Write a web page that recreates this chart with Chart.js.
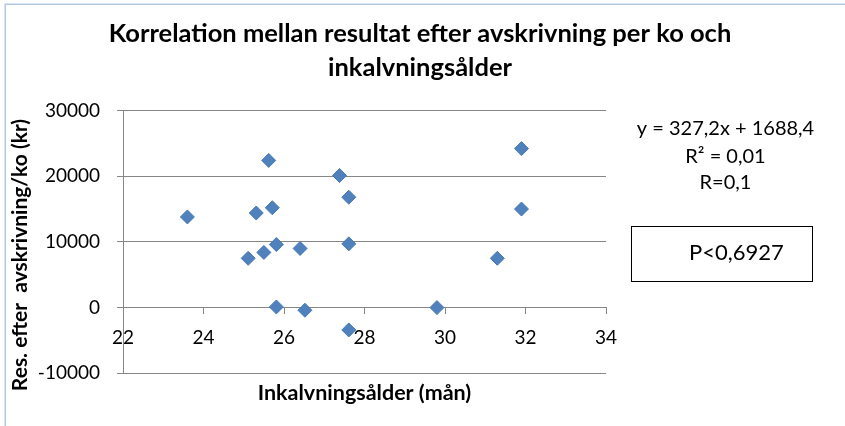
<!DOCTYPE html>
<html>
<head>
<meta charset="utf-8">
<script src="https://cdn.jsdelivr.net/npm/chart.js@4/dist/chart.umd.min.js"></script>
<style>
  html, body { margin: 0; padding: 0; background: #ffffff; }
  #wrap { width: 845px; height: 426px; }
</style>
</head>
<body>
<div id="wrap"><canvas id="c" width="845" height="426"></canvas></div>
<script>
// Inkalvningsålder (månader) per ko
const ageMonths = [23.6, 25.62, 27.38, 27.61, 25.31, 25.71, 25.81, 26.4, 27.61, 25.5, 25.11, 25.81, 26.52, 27.61, 31.9, 31.9, 31.3, 29.8];
// Resultat efter avskrivning per ko (kr)
const resultKr = [13800, 22400, 20100, 16800, 14400, 15200, 9600, 9000, 9700, 8400, 7500, 100, -400, -3400, 24200, 15000, 7500, 0];

const titleLines = ['Korrelation mellan resultat efter avskrivning per ko och', 'inkalvningsålder'];
const xTitle = 'Inkalvningsålder (mån)';
const yTitle = 'Res. efter  avskrivning/ko (kr)';
const regressionLines = ['y = 327,2x + 1688,4', 'R² = 0,01', 'R=0,1'];
const pValueText = 'P<0,6927';

const xTicks = { min: 22, max: 34, step: 2 };
const yTicks = { min: -10000, max: 30000, step: 10000 };

const FONT = 'Lato, "Open Sans", sans-serif';
const AXIS_GREY = '#868686';

const points = ageMonths.map((x, i) => ({ x: x, y: resultKr[i] }));

// Frame, titles, regression text and the boxed p-value
const decorations = {
  id: 'decorations',
  beforeDraw(chart) {
    const ctx = chart.ctx;
    ctx.save();
    ctx.fillStyle = '#ffffff';
    ctx.fillRect(0, 0, chart.width, chart.height);
    ctx.strokeStyle = '#b3c8e3';
    ctx.lineWidth = 1.5;
    ctx.beginPath();
    ctx.moveTo(5.25, chart.height);
    ctx.lineTo(5.25, 4.25);
    ctx.lineTo(chart.width, 4.25);
    ctx.stroke();
    ctx.restore();
  },
  afterDraw(chart) {
    const ctx = chart.ctx;
    const area = chart.chartArea;
    ctx.save();
    ctx.fillStyle = '#000000';
    ctx.textAlign = 'center';
    ctx.textBaseline = 'alphabetic';

    // chart title, two lines
    ctx.font = 'bold 25.5px ' + FONT;
    ctx.fillText(titleLines[0], 420, 42);
    ctx.fillText(titleLines[1], 420, 75.5);

    // x-axis title under the plot
    ctx.font = 'bold 21.5px ' + FONT;
    ctx.fillText(xTitle, (area.left + area.right) / 2, 400);

    // y-axis title, rotated
    ctx.save();
    ctx.translate(27, 255);
    ctx.rotate(-Math.PI / 2);
    ctx.font = 'bold 21px ' + FONT;
    ctx.fillText(yTitle, 0, 0);
    ctx.restore();

    // regression equation
    ctx.font = '20px ' + FONT;
    const cx = 725.5;
    const baselines = [135, 163, 189];
    regressionLines.forEach((t, i) => ctx.fillText(t, cx, baselines[i]));

    // p-value box
    ctx.strokeStyle = '#000000';
    ctx.lineWidth = 1;
    ctx.strokeRect(631.5, 226.5, 181, 55);
    ctx.font = '22px ' + FONT;
    ctx.fillText(pValueText, 736.5, 259.5);
    ctx.restore();
  }
};

new Chart(document.getElementById('c'), {
  type: 'scatter',
  data: {
    datasets: [{
      data: points,
      pointStyle: 'rectRot',
      pointRadius: 7,
      pointHoverRadius: 7,
      backgroundColor: '#4f81bd',
      borderColor: '#4a7ab4',
      borderWidth: 1
    }]
  },
  options: {
    responsive: false,
    animation: false,
    events: [],
    layout: { padding: { left: 0, right: 239, bottom: 52.7, top: 110.5 } },
    plugins: {
      legend: { display: false },
      tooltip: { enabled: false },
      title: { display: false }
    },
    scales: {
      x: {
        type: 'linear',
        position: { y: 0 },
        min: xTicks.min,
        max: xTicks.max,
        ticks: {
          stepSize: xTicks.step,
          color: '#000000',
          font: { family: FONT, size: 19 },
          padding: 12.5,
          maxRotation: 0,
          callback: (v) => String(v)
        },
        grid: { drawOnChartArea: false, drawTicks: true, tickLength: 6, color: AXIS_GREY },
        border: { display: true, color: AXIS_GREY, width: 1 }
      },
      y: {
        min: yTicks.min,
        max: yTicks.max,
        afterFit(scale) { scale.width = 123; },
        ticks: {
          stepSize: yTicks.step,
          color: '#000000',
          font: { family: FONT, size: 19 },
          padding: 17,
          callback: (v) => String(v)
        },
        grid: { color: AXIS_GREY, tickLength: 6, lineWidth: 1 },
        border: { display: true, color: AXIS_GREY, width: 1 }
      }
    }
  },
  plugins: [decorations]
});
</script>
</body>
</html>
